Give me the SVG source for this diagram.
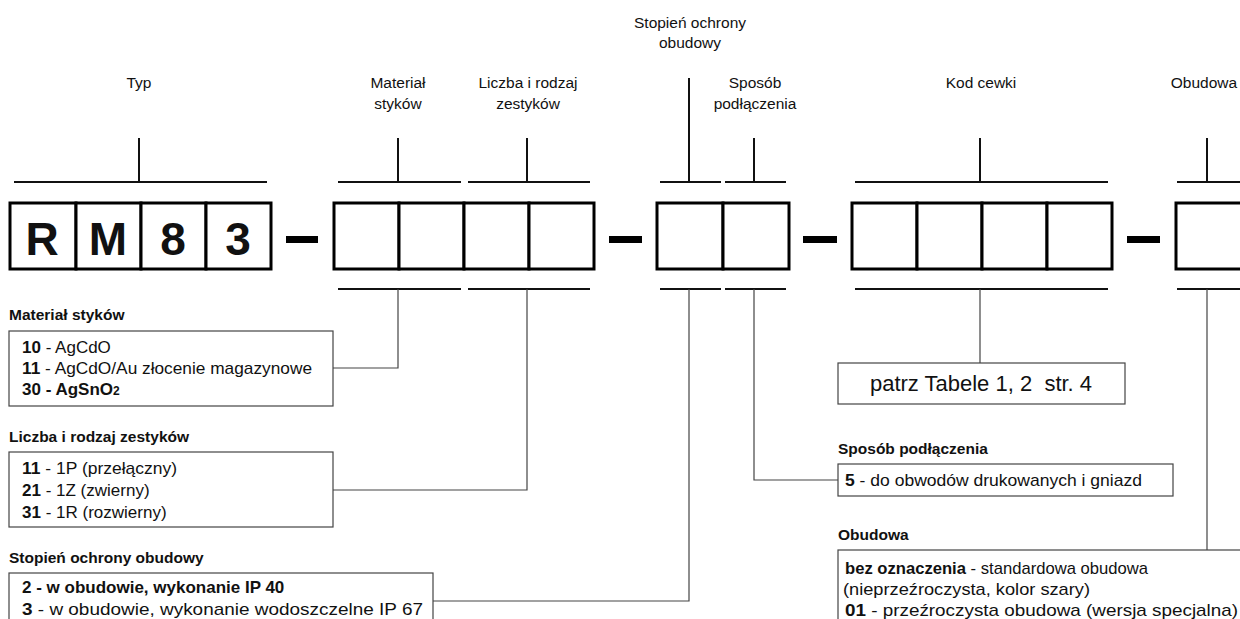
<svg xmlns="http://www.w3.org/2000/svg" width="1240" height="619" viewBox="0 0 1240 619">
<style>
text{font-family:"Liberation Sans",Arial,sans-serif;fill:#111}
.lbl{font-size:15.5px;text-anchor:middle}
.big{font-size:46px;font-weight:bold;text-anchor:middle}
.ttl{font-size:15.5px;font-weight:bold}
.ent{font-size:17px;white-space:pre}
.b{font-weight:bold}
.cell{fill:#fff;stroke:#000;stroke-width:3}
.dash{fill:#000}
.tick{stroke:#111;stroke-width:2;fill:none}
.conn{stroke:#444;stroke-width:1.2;fill:none}
.box{fill:#fff;stroke:#444;stroke-width:1.2}
</style>

<g id="labels">
<text class="lbl" x="139" y="88">Typ</text>
<text class="lbl" x="398" y="88">Materiał</text>
<text class="lbl" x="398" y="109">styków</text>
<text class="lbl" x="528" y="88">Liczba i rodzaj</text>
<text class="lbl" x="528" y="109">zestyków</text>
<text class="lbl" x="690" y="28">Stopień ochrony</text>
<text class="lbl" x="690" y="48">obudowy</text>
<text class="lbl" x="755" y="88">Sposób</text>
<text class="lbl" x="755" y="109">podłączenia</text>
<text class="lbl" x="981" y="88">Kod cewki</text>
<text class="lbl" x="1204" y="88">Obudowa</text>
</g>

<g id="top-brackets">
<path class="tick" d="M14 182H267M139 138V182"/>
<path class="tick" d="M338 182H461M398 138V182"/>
<path class="tick" d="M468 182H590M527 138V182"/>
<path class="tick" d="M660 182H721M689 78V182"/>
<path class="tick" d="M725 182H786M754 138V182"/>
<path class="tick" d="M855 182H1108M980 138V182"/>
<path class="tick" d="M1177 182H1240M1207 138V182"/>
</g>

<g id="code-typ">
<rect class="cell" x="10" y="203" width="66" height="66"/>
<rect class="cell" x="76" y="203" width="65" height="66"/>
<rect class="cell" x="141" y="203" width="65" height="66"/>
<rect class="cell" x="206" y="203" width="65" height="66"/>
<text class="big" x="42" y="255">R</text>
<text class="big" x="108" y="255">M</text>
<text class="big" x="173" y="255">8</text>
<text class="big" x="238" y="255">3</text>
</g>
<rect class="dash" x="286" y="236" width="32" height="7"/>
<g id="code-material-liczba">
<rect class="cell" x="334" y="203" width="65" height="66"/>
<rect class="cell" x="399" y="203" width="65" height="66"/>
<rect class="cell" x="464" y="203" width="65" height="66"/>
<rect class="cell" x="529" y="203" width="65" height="66"/>
</g>
<rect class="dash" x="609" y="236" width="33" height="7"/>
<g id="code-stopien-sposob">
<rect class="cell" x="657" y="203" width="66" height="66"/>
<rect class="cell" x="723" y="203" width="66" height="66"/>
</g>
<rect class="dash" x="803" y="236" width="34" height="7"/>
<g id="code-kod-cewki">
<rect class="cell" x="852" y="203" width="65" height="66"/>
<rect class="cell" x="917" y="203" width="65" height="66"/>
<rect class="cell" x="982" y="203" width="65" height="66"/>
<rect class="cell" x="1047" y="203" width="65" height="66"/>
</g>
<rect class="dash" x="1127" y="236" width="33" height="7"/>
<g id="code-obudowa">
<rect class="cell" x="1176" y="203" width="66" height="66"/>
</g>

<g id="connectors">
<path class="tick" d="M338 289H461M468 289H590M660 289H721M725 289H786M855 289H1108M1177 289H1240"/>
<path class="conn" d="M398 289V368H333"/>
<path class="conn" d="M527 289V490H333"/>
<path class="conn" d="M689 289V601H433"/>
<path class="conn" d="M754 289V480H838"/>
<path class="conn" d="M980 289V363"/>
<path class="conn" d="M1207 289V550"/>
</g>

<g id="legend-material">
<text class="ttl" x="9" y="320">Materiał styków</text>
<rect class="box" x="9" y="331" width="324" height="75"/>
<text class="ent" x="22" y="353"><tspan class="b">10</tspan> - AgCdO</text>
<text class="ent" x="22" y="374" textLength="290" lengthAdjust="spacingAndGlyphs"><tspan class="b">11</tspan> - AgCdO/Au złocenie magazynowe</text>
<text class="ent b" x="22" y="395">30 - AgSnO<tspan font-size="12">2</tspan></text>
</g>

<g id="legend-liczba">
<text class="ttl" x="9" y="442">Liczba i rodzaj zestyków</text>
<rect class="box" x="9" y="452" width="324" height="75"/>
<text class="ent" x="22" y="474" textLength="155" lengthAdjust="spacingAndGlyphs"><tspan class="b">11</tspan> - 1P (przełączny)</text>
<text class="ent" x="22" y="496"><tspan class="b">21</tspan> - 1Z (zwierny)</text>
<text class="ent" x="22" y="518"><tspan class="b">31</tspan> - 1R (rozwierny)</text>
</g>

<g id="legend-stopien">
<text class="ttl" x="9" y="563">Stopień ochrony obudowy</text>
<rect class="box" x="9" y="573" width="424" height="60"/>
<text class="ent b" x="22" y="593">2 - w obudowie, wykonanie IP 40</text>
<text class="ent" x="22" y="615" textLength="401" lengthAdjust="spacingAndGlyphs"><tspan class="b">3</tspan> - w obudowie, wykonanie wodoszczelne IP 67</text>
</g>

<g id="legend-kod">
<rect class="box" x="838" y="363" width="287" height="41"/>
<text class="ent" x="981" y="391" style="font-size:22px;text-anchor:middle">patrz Tabele 1, 2  str. 4</text>
</g>

<g id="legend-sposob">
<text class="ttl" x="838" y="454">Sposób podłączenia</text>
<rect class="box" x="838" y="464" width="335" height="32"/>
<text class="ent" x="845" y="486" textLength="297" lengthAdjust="spacingAndGlyphs"><tspan class="b">5</tspan> - do obwodów drukowanych i gniazd</text>
</g>

<g id="legend-obudowa">
<text class="ttl" x="838" y="540">Obudowa</text>
<rect class="box" x="838" y="550" width="420" height="80"/>
<text class="ent" x="845" y="574" textLength="303" lengthAdjust="spacingAndGlyphs"><tspan class="b">bez oznaczenia</tspan> - standardowa obudowa</text>
<text class="ent" x="843" y="595" textLength="247" lengthAdjust="spacingAndGlyphs">(nieprzeźroczysta, kolor szary)</text>
<text class="ent" x="845" y="616" textLength="393" lengthAdjust="spacingAndGlyphs"><tspan class="b">01</tspan> - przeźroczysta obudowa (wersja specjalna)</text>
</g>
</svg>
